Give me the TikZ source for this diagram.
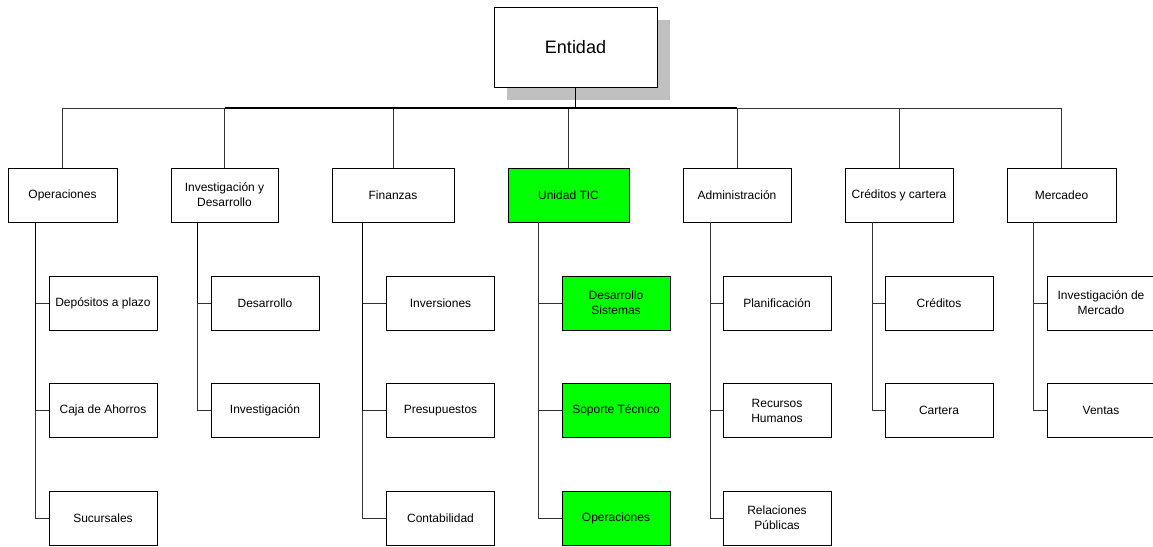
\documentclass[tikz,border=0pt]{standalone}
\usepackage{fontspec}
\setmainfont{Liberation Sans}
\usetikzlibrary{shadows}
\definecolor{ticgreen}{RGB}{0,255,0}
\definecolor{shadowgray}{RGB}{192,192,192}
\begin{document}
\begin{tikzpicture}
	[x=1pt,y=-1pt,
	unit/.style={draw,fill=white,line width=0.9pt,inner sep=0pt,minimum width=108pt,minimum height=54pt,align=center,font=\fontsize{12}{15}\selectfont},
	tic/.style={unit,fill=ticgreen},
	link/.style={line width=0.8pt,black!80},
	heavy/.style={line width=1.8pt,black}]
	\clip (0,0) rectangle (1153,546);
	% top box
	\node[unit,name=ent,minimum width=163pt,minimum height=80pt,font=\fontsize{18}{22}\selectfont,
		drop shadow={shadow xshift=13pt,shadow yshift=-13pt,fill=shadowgray,opacity=1}]at(575.5,47){Entidad};
	\coordinate (bus) at (575.5,108);
	% first level
	\node[unit,name=ops,minimum width=109pt]at(62.5,195){Operaciones};
	\node[unit,name=iyd,minimum width=107pt]at(224.5,195){Investigación y\\Desarrollo};
	\node[unit,name=fin,minimum width=122pt]at(393,195){Finanzas};
	\node[tic,name=tic,minimum width=121pt]at(568.5,195){Unidad TIC};
	\node[unit,name=adm]at(737,195){Administración};
	\node[unit,name=cre]at(899,195){Créditos y cartera};
	\node[unit,name=mer,minimum width=109pt]at(1061.5,195){Mercadeo};
	% second level
	\node[unit,name=ops1]at(103,303){Depósitos a plazo};
	\node[unit,name=ops2]at(103,410.5){Caja de Ahorros};
	\node[unit,name=ops3]at(103,518){Sucursales};
	\node[unit,name=iyd1]at(265,303){Desarrollo};
	\node[unit,name=iyd2]at(265,410.5){Investigación};
	\node[unit,name=fin1]at(440.5,303){Inversiones};
	\node[unit,name=fin2]at(440.5,410.5){Presupuestos};
	\node[unit,name=fin3]at(440.5,518){Contabilidad};
	\node[tic,name=tic1]at(616,303){Desarrollo\\Sistemas};
	\node[tic,name=tic2]at(616,410.5){Soporte Técnico};
	\node[tic,name=tic3]at(616,518){Operaciones};
	\node[unit,name=adm1]at(777,303){Planificación};
	\node[unit,name=adm2]at(777,410.5){Recursos\\Humanos};
	\node[unit,name=adm3]at(777,518){Relaciones\\Públicas};
	\node[unit,name=cre1]at(939,303){Créditos};
	\node[unit,name=cre2]at(939,410.5){Cartera};
	\node[unit,name=mer1]at(1101,303){Investigación de\\Mercado};
	\node[unit,name=mer2]at(1101,410.5){Ventas};
	% spines
	\coordinate (opsS) at ([xshift=28pt]ops.south west);
	\coordinate (iydS) at ([xshift=27pt]iyd.south west);
	\coordinate (finS) at ([xshift=31pt]fin.south west);
	\coordinate (ticS) at ([xshift=31pt]tic.south west);
	\coordinate (admS) at ([xshift=28pt]adm.south west);
	\coordinate (creS) at ([xshift=28pt]cre.south west);
	\coordinate (merS) at ([xshift=27pt]mer.south west);
	% bus
	\draw[heavy] (ent.south)--(bus);
	\draw[link] (bus)-|(ops.north);
	\draw[link] (bus)-|(iyd.north);
	\draw[link] (bus)-|(fin.north);
	\draw[link] (bus)-|(tic.north);
	\draw[link] (bus)-|(adm.north);
	\draw[link] (bus)-|(cre.north);
	\draw[link] (bus)-|(mer.north);
	\draw[heavy] (bus-|iyd.north)--(bus-|adm.north);
	% branches
	\draw[link] (opsS)|-(ops1.west);
	\draw[link] (opsS)|-(ops2.west);
	\draw[link] (opsS)|-(ops3.west);
	\draw[heavy] (opsS)--(opsS|-ops2.west);
	\draw[link] (iydS)|-(iyd1.west);
	\draw[link] (iydS)|-(iyd2.west);
	\draw[heavy] (iydS)--(iydS|-iyd1.west);
	\draw[link] (finS)|-(fin1.west);
	\draw[link] (finS)|-(fin2.west);
	\draw[link] (finS)|-(fin3.west);
	\draw[heavy] (finS)--(finS|-fin2.west);
	\draw[link] (ticS)|-(tic1.west);
	\draw[link] (ticS)|-(tic2.west);
	\draw[link] (ticS)|-(tic3.west);
	\draw[link] (admS)|-(adm1.west);
	\draw[link] (admS)|-(adm2.west);
	\draw[link] (admS)|-(adm3.west);
	\draw[link] (creS)|-(cre1.west);
	\draw[link] (creS)|-(cre2.west);
	\draw[link] (merS)|-(mer1.west);
	\draw[link] (merS)|-(mer2.west);
\end{tikzpicture}
\end{document}
